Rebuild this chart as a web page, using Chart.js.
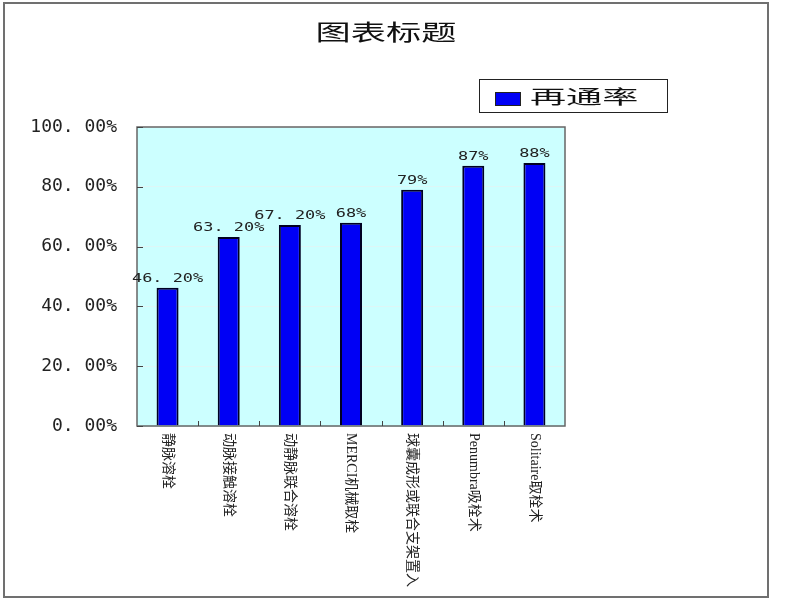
<!DOCTYPE html>
<html>
<head>
<meta charset="utf-8">
<script src="https://cdn.jsdelivr.net/npm/chart.js@4/dist/chart.umd.min.js"></script>
<style>
  html, body { margin: 0; padding: 0; background: #fff; }
  #wrap { width: 800px; height: 600px; position: relative; }
</style>
</head>
<body>
<div id="wrap"><canvas id="myChart"></canvas></div>
<script>
// data
const categories = ['静脉溶栓', '动脉接触溶栓', '动静脉联合溶栓', 'MERCI机械取栓', '球囊成形或联合支架置入', 'Penumbra吸栓术', 'Solitaire取栓术'];
const recanalRate = [46.2, 63.2, 67.2, 68, 79, 87, 88];
const yTicks = [0, 20, 40, 60, 80, 100];
const seriesName = '再通率';
const chartTitle = '图表标题';

// the old slide prints percents with a wide gap after the dot
const fmtPct = v => (Number.isInteger(v) ? v + '%' : v.toFixed(2).replace('.', '. ') + '%');

// stretched text helper (original slide is squashed wide)
function wideText(ctx, txt, x, y, sx, align) {
  ctx.save();
  ctx.translate(x, y);
  ctx.scale(sx, 1);
  ctx.textAlign = align || 'center';
  ctx.fillText(txt, 0, 0);
  ctx.restore();
}

const decor = {
  id: 'decor',
  beforeDraw(chart) {
    const { ctx, chartArea: a } = chart;
    ctx.save();
    ctx.fillStyle = '#fff';
    ctx.fillRect(0, 0, chart.width, chart.height);
    ctx.strokeStyle = '#707070';
    ctx.lineWidth = 2;
    ctx.strokeRect(4, 3, 764, 594);
    ctx.fillStyle = '#CCFFFF';
    ctx.fillRect(a.left, a.top, a.right - a.left, a.bottom - a.top);
    ctx.restore();
  },
  afterDatasetsDraw(chart) {
    const { ctx, chartArea: a } = chart;
    const xs = chart.scales.x, ys = chart.scales.y;
    ctx.save();

    // plot frame
    ctx.strokeStyle = '#666';
    ctx.lineWidth = 1.5;
    ctx.strokeRect(a.left, a.top, a.right - a.left, a.bottom - a.top);

    // inner tick marks
    ctx.strokeStyle = '#444';
    ctx.lineWidth = 1;
    yTicks.forEach(t => {
      const y = Math.round(ys.getPixelForValue(t)) + 0.5;
      ctx.beginPath(); ctx.moveTo(a.left, y); ctx.lineTo(a.left + 6, y); ctx.stroke();
    });
    for (let i = 1; i < categories.length; i++) {
      const x = Math.round((xs.getPixelForValue(i - 1) + xs.getPixelForValue(i)) / 2) + 0.5;
      ctx.beginPath(); ctx.moveTo(x, a.bottom); ctx.lineTo(x, a.bottom - 5); ctx.stroke();
    }

    // value labels
    const meta = chart.getDatasetMeta(0);
    ctx.fillStyle = '#222';
    ctx.font = '13px "DejaVu Sans Mono"';
    ctx.textBaseline = 'alphabetic';
    meta.data.forEach((bar, i) => {
      wideText(ctx, fmtPct(recanalRate[i]), bar.x, bar.y - 6, 1.3);
    });

    // category labels, turned clockwise
    ctx.fillStyle = '#222';
    ctx.font = '14px "Liberation Serif", "Noto Sans CJK SC"';
    ctx.textBaseline = 'middle';
    categories.forEach((c, i) => {
      ctx.save();
      ctx.translate(xs.getPixelForValue(i), a.bottom + 7);
      ctx.rotate(Math.PI / 2);
      ctx.textAlign = 'left';
      ctx.fillText(c, 0, 0);
      ctx.restore();
    });

    // legend
    ctx.strokeStyle = '#222';
    ctx.lineWidth = 1;
    ctx.strokeRect(479.5, 79.5, 188, 33);
    ctx.fillStyle = chart.data.datasets[0].backgroundColor;
    ctx.fillRect(495, 92, 25, 13);
    ctx.strokeRect(495.5, 92.5, 25, 13);
    ctx.fillStyle = '#111';
    ctx.font = '19px "Noto Sans CJK SC"';
    ctx.textBaseline = 'middle';
    wideText(ctx, seriesName, 530, 97, 1.9, 'left');

    // title
    ctx.font = '22px "Noto Sans CJK SC"';
    wideText(ctx, chartTitle, 386, 32, 1.6);

    ctx.restore();
  }
};

const ctx = document.getElementById('myChart').getContext('2d');
const graph = new Chart(ctx, {
  type: 'bar',
  data: {
    labels: categories,
    datasets: [{
      label: seriesName,
      data: recanalRate,
      backgroundColor: '#0000F5',
      borderColor: '#000022',
      borderWidth: 2,
      categoryPercentage: 1,
      barPercentage: 0.36
    }]
  },
  options: {
    responsive: true,
    maintainAspectRatio: false,
    animation: false,
    layout: { padding: { left: 0, top: 127, right: 235, bottom: 174 } },
    plugins: {
      legend: { display: false },
      title: { display: false },
      tooltip: { enabled: false }
    },
    scales: {
      x: {
        grid: { display: false },
        border: { display: false },
        ticks: { display: false },
        afterFit: s => { s.height = 0; }
      },
      y: {
        min: 0,
        max: 100,
        afterFit: s => { s.width = 137; },
        afterBuildTicks: s => { s.ticks = yTicks.map(v => ({ value: v })); },
        grid: { color: '#ddf6f6', drawTicks: false },
        border: { display: false },
        ticks: {
          padding: 20,
          color: '#222',
          font: { family: 'DejaVu Sans Mono', size: 18 },
          callback: v => v.toFixed(2).replace('.', '. ') + '%'
        }
      }
    }
  },
  plugins: [decor]
});
</script>
</body>
</html>
